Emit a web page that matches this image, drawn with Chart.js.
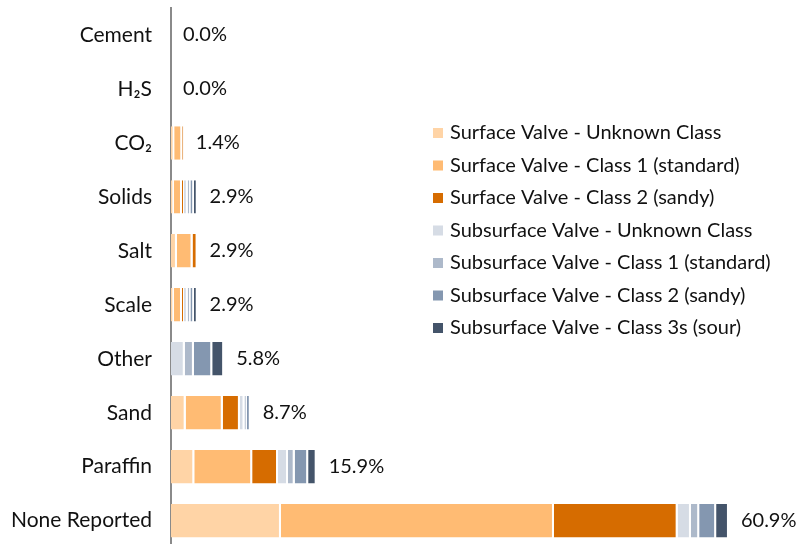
<!DOCTYPE html>
<html>
<head>
<meta charset="utf-8">
<script src="https://cdn.jsdelivr.net/npm/chart.js@4.4.0/dist/chart.umd.min.js"></script>
<style>
html, body { margin: 0; padding: 0; background: #fff; overflow: hidden; }
#wrap { width: 801px; height: 555px; }
</style>
</head>
<body>
<div id="wrap"><canvas id="failureChart"></canvas></div>
<script>
// categories (top to bottom)
const categories = ['Cement', 'H₂S', 'CO₂', 'Solids', 'Salt', 'Scale', 'Other', 'Sand', 'Paraffin', 'None Reported'];

// series values (% of all reports)
const surfaceUnknown    = [0, 0, 0.35, 0.3,  0.65, 0.3,  0,   1.6,  2.54, 12.0];
const surfaceClass1     = [0, 0, 0.88, 0.9,  1.7,  0.9,  0,   4.05, 6.32, 29.8];
const surfaceClass2     = [0, 0, 0.17, 0.22, 0.55, 0.22, 0,   1.87, 2.82, 13.5];
const subsurfaceUnknown = [0, 0, 0,    0.4,  0,    0.4,  1.5, 0.5,  1.09, 1.45];
const subsurfaceClass1  = [0, 0, 0,    0.3,  0,    0.3,  1.0, 0.26, 0.73, 0.9];
const subsurfaceClass2  = [0, 0, 0,    0.38, 0,    0.38, 2.0, 0.42, 1.47, 1.85];
const subsurfaceClass3s = [0, 0, 0,    0.4,  0,    0.4,  1.3, 0,    0.93, 1.4];

// total labels shown at bar ends
const totals = [0.0, 0.0, 1.4, 2.9, 2.9, 2.9, 5.8, 8.7, 15.9, 60.9];

const seriesNames = [
    'Surface Valve - Unknown Class',
    'Surface Valve - Class 1 (standard)',
    'Surface Valve - Class 2 (sandy)',
    'Subsurface Valve - Unknown Class',
    'Subsurface Valve - Class 1 (standard)',
    'Subsurface Valve - Class 2 (sandy)',
    'Subsurface Valve - Class 3s (sour)'
];
const seriesColors = ['#FFD4A6', '#FFBB73', '#D66C00', '#D6DCE5', '#ADB9CA', '#8497B0', '#44546A'];
const seriesValues = [surfaceUnknown, surfaceClass1, surfaceClass2, subsurfaceUnknown, subsurfaceClass1, subsurfaceClass2, subsurfaceClass3s];

const FONT = 'Lato, "DejaVu Sans", sans-serif';
const TEXT_COLOR = '#111111';

// 막대 끝 합계 라벨
const totalLabels = {
    id: 'totalLabels',
    afterDatasetsDraw(chart) {
        const ctx = chart.ctx;
        const xs = chart.scales.x, ys = chart.scales.y;
        ctx.save();
        ctx.font = '20px ' + FONT;
        ctx.fillStyle = TEXT_COLOR;
        ctx.textAlign = 'left';
        ctx.textBaseline = 'middle';
        totals.forEach(function(t, i) {
            ctx.fillText(t.toFixed(1) + '%', xs.getPixelForValue(t) + 12, ys.getPixelForValue(i));
        });
        ctx.restore();
    }
};

// 오른쪽 범례 (차트 영역 안)
const sideLegend = {
    id: 'sideLegend',
    afterDraw(chart) {
        const ctx = chart.ctx;
        ctx.save();
        ctx.font = '20px ' + FONT;
        ctx.textBaseline = 'middle';
        chart.data.datasets.forEach(function(ds, i) {
            const y = 133 + i * 32.5;
            ctx.fillStyle = ds.backgroundColor;
            ctx.fillRect(433, y - 5, 10, 10);
            ctx.fillStyle = TEXT_COLOR;
            ctx.fillText(ds.label, 450, y);
        });
        ctx.restore();
    }
};

const ctx = document.getElementById('failureChart').getContext('2d');
const failureChart = new Chart(ctx, {
    type: 'bar',
    data: {
        labels: categories,
        datasets: seriesNames.map(function(name, i) {
            return {
                label: name,
                data: seriesValues[i],
                backgroundColor: seriesColors[i],
                borderColor: '#ffffff',
                borderWidth: { right: 2 },
                borderSkipped: 'start',
                barPercentage: 0.62,
                categoryPercentage: 1.0
            };
        })
    },
    options: {
        indexAxis: 'y',
        responsive: true,
        maintainAspectRatio: false,
        animation: false,
        layout: { padding: { top: 8, right: 7, bottom: 0, left: 0 } },
        scales: {
            x: {
                stacked: true,
                display: false,
                min: 0,
                max: 68
            },
            y: {
                stacked: true,
                grid: { display: false, drawTicks: true, tickLength: 19 },
                border: { display: true, color: '#8a8a8a', width: 2 },
                ticks: {
                    padding: 0,
                    color: TEXT_COLOR,
                    font: { family: FONT, size: 21, lineHeight: 0.7 }
                },
                afterFit: function(scale) { scale.width = 171; }
            }
        },
        plugins: {
            legend: { display: false },
            tooltip: { enabled: false }
        }
    },
    plugins: [totalLabels, sideLegend]
});
</script>
</body>
</html>
